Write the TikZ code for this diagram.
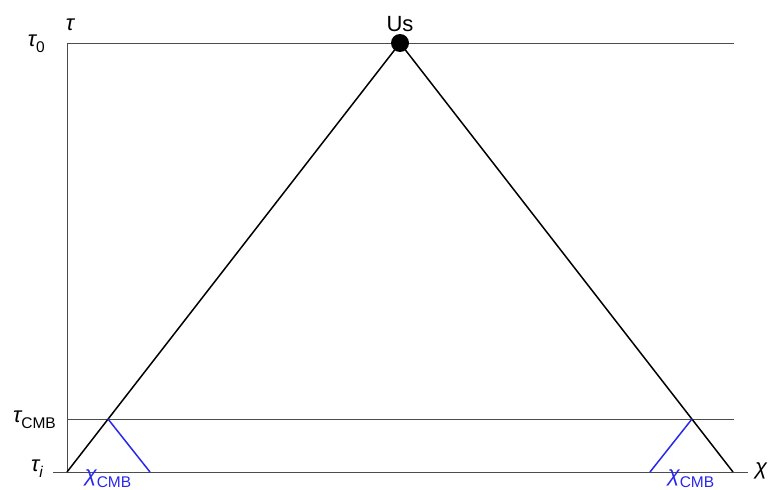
\documentclass[tikz,border=0pt]{standalone}
\usepackage{fontspec}
\setmainfont{Liberation Sans}
\usetikzlibrary{positioning}
\definecolor{cmbBlue}{RGB}{40, 40, 235}
\newcommand{\lowsub}[1]{\raisebox{-0.28em}{\fontsize{15.5}{18}\selectfont\upshape #1}}

\begin{document}
\begin{tikzpicture}[x=1pt, y=-1pt,
        axisline/.style={draw=black!70, line width=0.9pt},
        lightcone/.style={draw=black, line width=1.5pt},
        cmbline/.style={draw=cmbBlue, line width=1.5pt},
        lbl/.style={font=\fontsize{22}{26}\selectfont, inner sep=1pt}]
        \useasboundingbox (0,0) rectangle (769,490);

        % axes and time slices
        \coordinate (top) at (67,43);
        \coordinate (orig) at (67,472);
        \coordinate (topR) at (734,43);
        \coordinate (cmbL) at (67,419);
        \coordinate (cmbR) at (734,419);
        \coordinate (botL) at (53,472);
        \coordinate (botR) at (748,472);

        \draw[axisline] (top) -- (orig);
        \draw[axisline] (top) -- (topR);
        \draw[axisline] (cmbL) -- (cmbR);
        \draw[axisline] (botL) -- (botR);

        % light cone
        \node[circle, fill=black, minimum size=18pt, inner sep=0pt] (us) at (400,43) {};
        \coordinate (endR) at (733,472);
        \coordinate (hitL) at (108,419);
        \coordinate (hitR) at (692,419);
        \coordinate (footL) at (150,472);
        \coordinate (footR) at (650,472);

        \draw[lightcone] (orig) -- (us.center) -- (endR);
        \draw[cmbline] (hitL) -- (footL);
        \draw[cmbline] (hitR) -- (footR);

        % labels
        \node[lbl, above=1pt of us] (uslbl) {Us};
        \node[lbl] (taulbl) at (70,25) {\itshape τ};
        \node[lbl, anchor=east] (tau0) at (46,44) {\itshape τ\lowsub{0}};
        \node[lbl, anchor=east] (taucmb) at (57,420) {\itshape τ\lowsub{CMB}};
        \node[lbl, anchor=east] (taui) at (44,469) {\itshape τ\lowsub{\itshape i}};
        \node[lbl] (chilbl) at (761,471) {\itshape χ};
        \node[lbl, text=cmbBlue] (chiL) at (108,479) {\itshape χ\lowsub{CMB}};
        \node[lbl, text=cmbBlue] (chiR) at (691,479) {\itshape χ\lowsub{CMB}};
\end{tikzpicture}
\end{document}
